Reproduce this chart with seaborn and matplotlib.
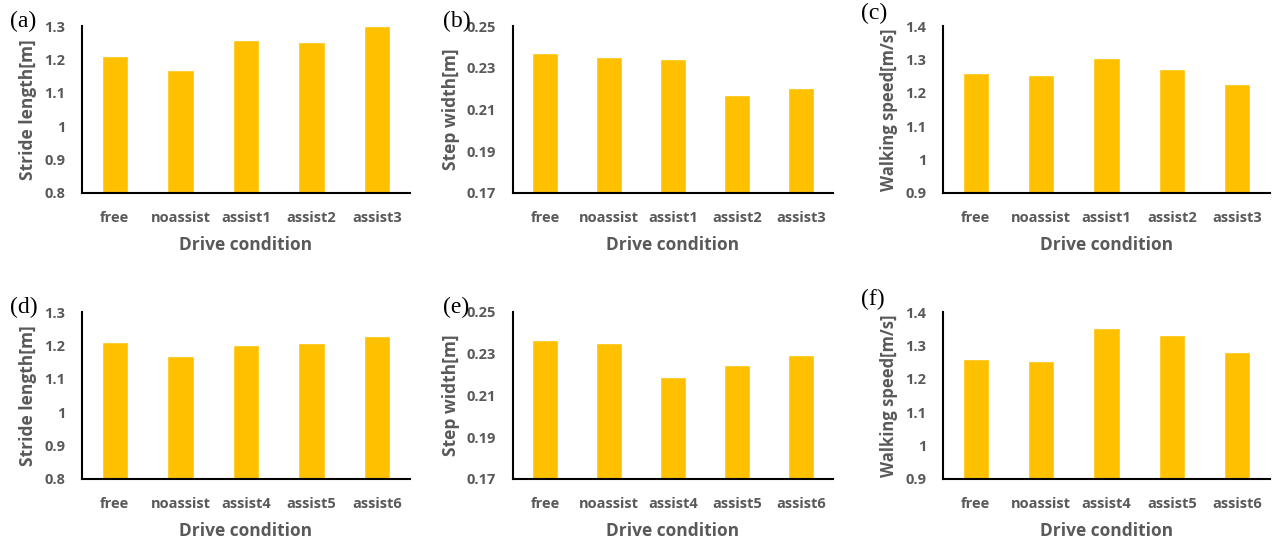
#!/usr/bin/env python3
# -*- coding: utf-8 -*-

import matplotlib
matplotlib.use("Agg")
import matplotlib.pyplot as plt
import pandas as pd
import seaborn as sns

# Data
top_conditions = ["free", "noassist", "assist1", "assist2", "assist3"]
bottom_conditions = ["free", "noassist", "assist4", "assist5", "assist6"]

stride_top = [1.209, 1.168, 1.258, 1.251, 1.299]
width_top = [0.2369, 0.2353, 0.2343, 0.2169, 0.2202]
speed_top = [1.260, 1.252, 1.303, 1.270, 1.227]

stride_bottom = [1.211, 1.169, 1.202, 1.208, 1.228]
width_bottom = [0.2367, 0.2351, 0.2190, 0.2247, 0.2295]
speed_bottom = [1.260, 1.253, 1.353, 1.332, 1.281]

panel_letters = ["(a)", "(b)", "(c)", "(d)", "(e)", "(f)"]
ylabels = ["Stride length[m]", "Step width[m]", "Walking speed[m/s]"]

# y ticks as printed on each kind of panel
stride_ticks = [0.8, 0.9, 1.0, 1.1, 1.2, 1.3]
width_ticks = [0.17, 0.19, 0.21, 0.23, 0.25]
speed_ticks = [0.9, 1.0, 1.1, 1.2, 1.3, 1.4]
ytick_sets = [stride_ticks, width_ticks, speed_ticks]

BAR_COLOR = "#FFC000"
TEXT_COLOR = "#595959"

sns.set_style("white")
plt.rcParams["font.family"] = ["Open Sans", "DejaVu Sans"]

fig = plt.figure(figsize=(12.73, 5.40), dpi=100)

lefts = [82 / 1273, 513 / 1273, 943 / 1273]
widths = [328 / 1273, 320 / 1273, 327 / 1273]
bottoms = [1 - 193 / 540, 1 - 479 / 540]
height = 167 / 540

rows = [
    (top_conditions, [stride_top, width_top, speed_top]),
    (bottom_conditions, [stride_bottom, width_bottom, speed_bottom]),
]

k = 0
for r, (conds, series) in enumerate(rows):
    for c, vals in enumerate(series):
        ax = fig.add_axes([lefts[c], bottoms[r], widths[c], height])
        df = pd.DataFrame({"condition": conds, "value": vals})
        sns.barplot(data=df, x="condition", y="value", color=BAR_COLOR,
                    width=0.4, saturation=1, ax=ax)
        ticks = ytick_sets[c]
        ax.set_ylim(ticks[0], ticks[-1])
        ax.set_xlim(-0.5, 4.5)
        ax.set_yticks(ticks)
        ax.set_yticklabels([f"{t:g}" for t in ticks])
        ylab_size = 12 if c == 2 else 12.5
        ax.set_ylabel(ylabels[c], fontsize=ylab_size, fontweight="bold",
                      color=TEXT_COLOR, labelpad=5)
        ax.set_xlabel("Drive condition", fontsize=12.5, fontweight="bold",
                      color=TEXT_COLOR, labelpad=8)
        ax.tick_params(axis="both", length=0, labelsize=10.5,
                       labelcolor=TEXT_COLOR)
        ax.tick_params(axis="x", pad=13)
        ax.tick_params(axis="y", pad=12)
        for lab in ax.get_xticklabels() + ax.get_yticklabels():
            lab.set_fontweight("bold")
        sns.despine(ax=ax)
        for side in ["left", "bottom"]:
            ax.spines[side].set_color("black")
            ax.spines[side].set_linewidth(1.5)
        lx, ly = (-0.25, 1.075) if c == 2 else (-0.22, 1.03)
        ax.text(lx, ly, panel_letters[k], transform=ax.transAxes,
                fontsize=17, family="Liberation Serif", color="black",
                ha="left", va="center")
        k += 1

fig.savefig("out.png", dpi=100)
